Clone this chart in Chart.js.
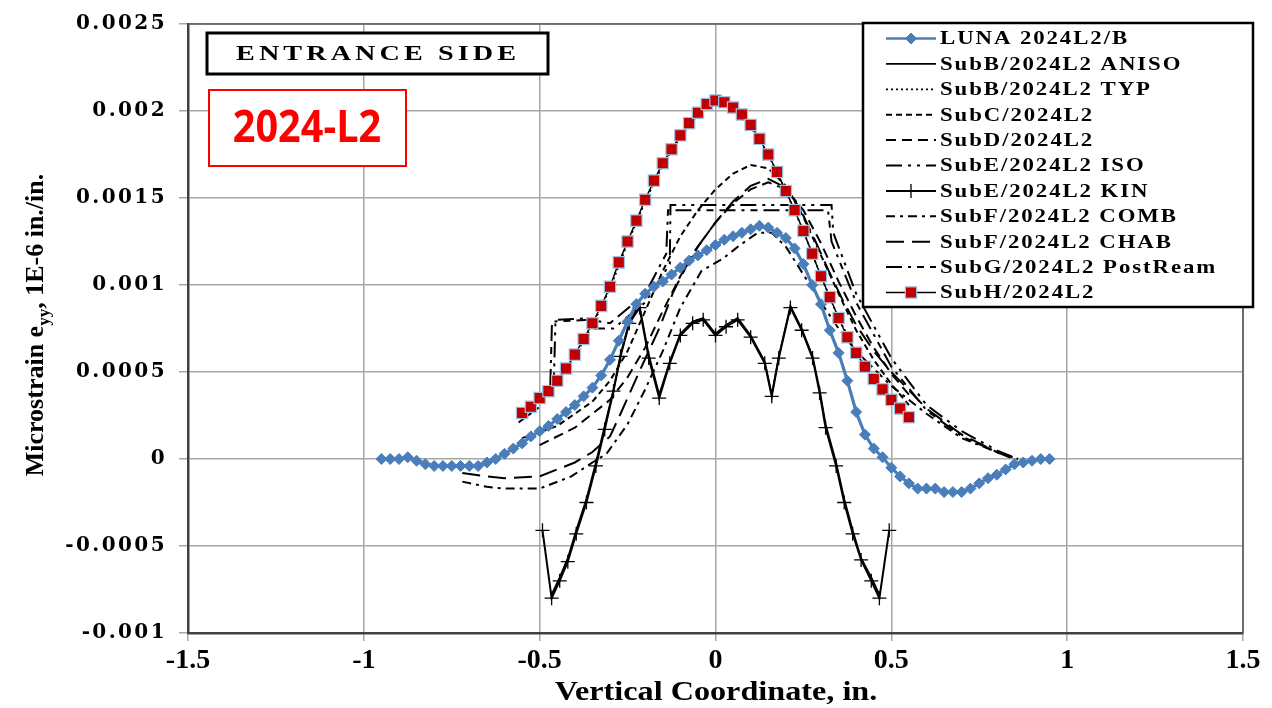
<!DOCTYPE html>
<html><head><meta charset="utf-8">
<script src="https://cdn.jsdelivr.net/npm/chart.js@4.4.1/dist/chart.umd.min.js"></script>
<style>html,body{margin:0;padding:0;background:#fff;}#wrap{position:relative;width:1272px;height:708px;}canvas{display:block;}</style>
</head><body><div id="wrap"><canvas id="c" width="1272" height="708"></canvas></div>
<script>
// ---------- data ----------
const xTicks = [-1.5,-1,-0.5,0,0.5,1,1.5];
const xTickLabels = ['-1.5','-1','-0.5','0','0.5','1','1.5'];
const yTicks = [-0.001,-0.0005,0,0.0005,0.001,0.0015,0.002,0.0025];
const yTickLabels = ['-0.001','-0.0005','0','0.0005','0.001','0.0015','0.002','0.0025'];
const seriesNames = ['LUNA 2024L2/B','SubB/2024L2 ANISO','SubB/2024L2 TYP','SubC/2024L2','SubD/2024L2','SubE/2024L2 ISO','SubE/2024L2 KIN','SubF/2024L2 COMB','SubF/2024L2 CHAB','SubG/2024L2 PostReam','SubH/2024L2'];

const lunaX = [-0.95,-0.925,-0.9,-0.875,-0.85,-0.825,-0.8,-0.775,-0.75,-0.725,-0.7,-0.675,-0.65,-0.625,-0.6,-0.575,-0.55,-0.525,-0.5,-0.475,-0.45,-0.425,-0.4,-0.375,-0.35,-0.325,-0.3,-0.275,-0.25,-0.225,-0.2,-0.175,-0.15,-0.125,-0.1,-0.075,-0.05,-0.025,0,0.025,0.05,0.075,0.1,0.125,0.15,0.175,0.2,0.225,0.25,0.275,0.3,0.325,0.35,0.375,0.4,0.425,0.45,0.475,0.5,0.525,0.55,0.575,0.6,0.625,0.65,0.675,0.7,0.725,0.75,0.775,0.8,0.825,0.85,0.875,0.9,0.925,0.95];
const lunaY = [0,0,0,0.00001,-0.00001,-0.00003,-0.00004,-0.00004,-0.00004,-0.00004,-0.00004,-0.00004,-0.00002,0,0.00003,0.00006,0.00009,0.00013,0.00016,0.00019,0.00023,0.00027,0.00031,0.00036,0.00041,0.00048,0.00057,0.00068,0.00079,0.00089,0.00095,0.00099,0.00102,0.00106,0.0011,0.00114,0.00117,0.0012,0.00123,0.00126,0.00128,0.0013,0.00132,0.00134,0.00133,0.0013,0.00127,0.00121,0.00112,0.001,0.00089,0.00074,0.00061,0.00045,0.00027,0.00014,0.00006,0.00001,-0.00005,-0.0001,-0.00014,-0.00017,-0.00017,-0.00017,-0.00019,-0.00019,-0.00019,-0.00017,-0.00014,-0.00011,-0.00009,-0.00006,-0.00003,-0.00002,-0.00001,0,0];

const anisoX = [-0.466,-0.443,-0.42,-0.396,-0.367,-0.34,-0.315,-0.29,-0.27,-0.245,-0.216,-0.19,-0.16,-0.13,-0.1,-0.065,-0.035,0,0.03,0.063,0.1,0.14,0.16,0.18,0.213,0.245,0.276,0.296,0.313,0.343,0.366,0.39,0.414,0.443,0.466];
const anisoY = [-0.00078,-0.00068,-0.00057,-0.00041,-0.00023,-0.00002,0.00019,0.0004,0.0006,0.00079,0.00088,0.0006,0.00037,0.00056,0.00072,0.00079,0.00081,0.00072,0.00077,0.00081,0.00071,0.00056,0.00037,0.00059,0.00088,0.00075,0.00059,0.0004,0.0002,-0.00002,-0.00023,-0.00041,-0.00057,-0.00068,-0.00078];

const typX = [-0.55,-0.5,-0.45,-0.4,-0.35,-0.3,-0.25,-0.2,-0.15,-0.1,-0.05,0,0.05,0.1,0.15,0.2,0.25,0.3,0.35,0.4,0.45,0.5,0.55];
const typY = [0.00026,0.00034,0.00044,0.00059,0.00077,0.00098,0.00124,0.00148,0.00169,0.00185,0.00198,0.00205,0.00201,0.00191,0.00175,0.00154,0.00131,0.00105,0.00081,0.00061,0.00046,0.00034,0.00024];

const subCX = [-0.55,-0.45,-0.35,-0.3,-0.25,-0.2,-0.15,-0.1,-0.05,0,0.05,0.1,0.15,0.2,0.25,0.3,0.35,0.4,0.45,0.5,0.55];
const subCY = [0.00012,0.00019,0.00033,0.00045,0.00062,0.00085,0.00108,0.00128,0.00143,0.00155,0.00164,0.00169,0.00167,0.00157,0.00139,0.00117,0.00095,0.00074,0.00057,0.00043,0.00031];

const subDX = [-0.5,-0.4,-0.3,-0.25,-0.2,-0.15,-0.1,-0.05,0,0.05,0.1,0.15,0.2,0.25,0.3,0.35,0.4,0.45,0.5,0.55];
const subDY = [0.00008,0.00018,0.00034,0.00047,0.00064,0.00085,0.00105,0.00122,0.00136,0.00147,0.00155,0.00159,0.00155,0.00143,0.00124,0.00102,0.00082,0.00064,0.00049,0.00037];

const isoX = [-0.56,-0.5,-0.46,-0.455,-0.35,-0.345,-0.29,-0.2,-0.13,-0.128,0.33,0.335,0.4,0.5,0.6,0.7,0.8,0.86];
const isoY = [0.00021,0.0003,0.00042,0.0008,0.00081,0.00075,0.00075,0.0009,0.00112,0.00146,0.00146,0.0013,0.00095,0.00058,0.00031,0.00016,0.00005,0];

const kinX = [-0.492,-0.466,-0.443,-0.42,-0.396,-0.367,-0.34,-0.315,-0.29,-0.27,-0.245,-0.216,-0.19,-0.16,-0.13,-0.1,-0.065,-0.035,0,0.03,0.063,0.1,0.14,0.16,0.18,0.213,0.245,0.276,0.296,0.313,0.343,0.366,0.39,0.414,0.443,0.466,0.494];
const kinY = [-0.00041,-0.0008,-0.0007,-0.00059,-0.00043,-0.00025,-0.00004,0.00017,0.00039,0.00059,0.00078,0.00087,0.00058,0.00035,0.00055,0.00071,0.00078,0.0008,0.00071,0.00076,0.0008,0.0007,0.00055,0.00036,0.00058,0.00087,0.00074,0.00058,0.00038,0.00018,-0.00004,-0.00025,-0.00043,-0.00058,-0.0007,-0.0008,-0.00041];

const combX = [-0.72,-0.65,-0.6,-0.5,-0.41,-0.35,-0.31,-0.25,-0.2,-0.15,-0.1,-0.04,0.02,0.07,0.12,0.16,0.2,0.25,0.3,0.35,0.4,0.5,0.6,0.7,0.8,0.86];
const combY = [-0.00013,-0.00016,-0.00017,-0.00017,-0.0001,-0.00002,0.00003,0.0002,0.0004,0.00062,0.00087,0.00108,0.00115,0.00123,0.0013,0.0013,0.00122,0.00106,0.0009,0.00075,0.00062,0.00042,0.00026,0.00012,0.00004,0];

const chabX = [-0.72,-0.65,-0.6,-0.5,-0.4,-0.35,-0.3,-0.27,-0.215,-0.16,-0.12,-0.065,0,0.05,0.1,0.15,0.2,0.24,0.28,0.32,0.36,0.4,0.45,0.5,0.6,0.7,0.8,0.86];
const chabY = [-0.00008,-0.0001,-0.00011,-0.0001,-0.00002,0.00004,0.00013,0.00026,0.00051,0.00075,0.00096,0.00118,0.00136,0.00148,0.00157,0.00161,0.00156,0.00144,0.00127,0.00109,0.00092,0.00077,0.00062,0.0005,0.00029,0.00014,0.00004,-0.00001];

const postX = [-0.55,-0.47,-0.465,-0.36,-0.3,-0.2,-0.14,-0.135,0.32,0.33,0.4,0.5,0.6,0.7,0.8,0.86];
const postY = [0.00024,0.0004,0.00079,0.0008,0.00078,0.00095,0.00118,0.00143,0.00143,0.00125,0.0009,0.00053,0.00028,0.00013,0.00004,0];

const subHX = [-0.55,-0.525,-0.5,-0.475,-0.45,-0.425,-0.4,-0.375,-0.35,-0.325,-0.3,-0.275,-0.25,-0.225,-0.2,-0.175,-0.15,-0.125,-0.1,-0.075,-0.05,-0.025,0,0.025,0.05,0.075,0.1,0.125,0.15,0.175,0.2,0.225,0.25,0.275,0.3,0.325,0.35,0.375,0.4,0.425,0.45,0.475,0.5,0.525,0.55];
const subHY = [0.000265,0.0003,0.00035,0.00039,0.00045,0.00052,0.0006,0.00069,0.00078,0.00088,0.00099,0.00113,0.00125,0.00137,0.00149,0.0016,0.0017,0.00178,0.00186,0.00193,0.00199,0.00204,0.00206,0.00205,0.00202,0.00198,0.00192,0.00184,0.00175,0.00165,0.00154,0.00143,0.00131,0.00118,0.00105,0.00093,0.00081,0.0007,0.00061,0.00053,0.00046,0.0004,0.00034,0.00029,0.00024];

// ---------- helpers ----------
const pts = (xs, ys) => xs.map((x, i) => ({x: x, y: ys[i]}));
const SERIF = "'Liberation Serif', 'Times New Roman', serif";

function lineDS(label, data, dash, extra) {
  return Object.assign({
    label: label, data: data, showLine: true, borderColor: '#000', backgroundColor: '#000',
    borderWidth: 2, borderDash: dash, pointRadius: 0, pointHoverRadius: 0, tension: 0, order: 3
  }, extra || {});
}

const datasets = [
  lineDS(seriesNames[0], pts(lunaX, lunaY), [], {borderColor: '#4A7EBB', borderWidth: 3.2, pointStyle: 'rectRot', pointRadius: 5.5, pointBackgroundColor: '#4A7EBB', pointBorderColor: '#4A7EBB', pointBorderWidth: 1, order: 1}),
  lineDS(seriesNames[1], pts(anisoX, anisoY), [], {borderWidth: 1.8}),
  lineDS(seriesNames[2], pts(typX, typY), [2, 3], {borderWidth: 1.8}),
  lineDS(seriesNames[3], pts(subCX, subCY), [6, 4]),
  lineDS(seriesNames[4], pts(subDX, subDY), [10, 6]),
  lineDS(seriesNames[5], pts(isoX, isoY), [16, 6, 3, 6, 3, 6]),
  lineDS(seriesNames[6], pts(kinX, kinY), [], {borderWidth: 2, pointStyle: 'cross', pointRadius: 7, pointBorderColor: '#000', pointBorderWidth: 1.3, order: 2}),
  lineDS(seriesNames[7], pts(combX, combY), [9, 5, 3, 5]),
  lineDS(seriesNames[8], pts(chabX, chabY), [18, 8]),
  lineDS(seriesNames[9], pts(postX, postY), [16, 6, 3, 6, 7, 6]),
  lineDS(seriesNames[10], pts(subHX, subHY), [], {borderWidth: 1.5, pointStyle: 'rect', pointRadius: 8, pointBackgroundColor: '#C00000', pointBorderColor: '#9CC3E5', pointBorderWidth: 1.2, order: 0})
];

function drawText(ctx, text, x, y, font, sx, spacing, align, baseline, color) {
  ctx.save();
  ctx.font = font;
  ctx.letterSpacing = (spacing || 0) + 'px';
  ctx.fillStyle = color || '#000';
  ctx.textBaseline = baseline || 'middle';
  ctx.textAlign = 'left';
  const w = ctx.measureText(text).width - (spacing || 0);
  ctx.translate(x, y);
  ctx.scale(sx, 1);
  let sxPos = 0;
  if (align === 'center') sxPos = -w / 2;
  else if (align === 'right') sxPos = -w;
  ctx.fillText(text, sxPos, 0);
  ctx.restore();
}

const spacingPlugin = {
  id: 'spacing',
  beforeDraw(chart) { chart.ctx.letterSpacing = '2.4px'; },
  beforeDatasetsDraw(chart) {
    const ctx = chart.ctx, a = chart.chartArea;
    ctx.letterSpacing = '0px';
    ctx.save();
    ctx.strokeStyle = '#595959';
    ctx.lineWidth = 1.6;
    ctx.beginPath();
    ctx.moveTo(a.left, a.top); ctx.lineTo(a.right, a.top); ctx.lineTo(a.right, a.bottom);
    ctx.stroke();
    ctx.restore();
  }
};

const decorPlugin = {
  id: 'decor',
  afterDraw(chart) {
    const ctx = chart.ctx;
    const H = Chart.helpers;
    // ENTRANCE SIDE box
    ctx.save();
    ctx.fillStyle = '#fff';
    ctx.fillRect(207, 33, 341, 41);
    ctx.strokeStyle = '#000'; ctx.lineWidth = 3;
    ctx.strokeRect(207, 33, 341, 41);
    ctx.restore();
    drawText(ctx, 'ENTRANCE SIDE', 376, 54, 'bold 22px ' + SERIF, 1.28, 3.2, 'center', 'middle', '#000');
    // 2024-L2 box
    ctx.save();
    ctx.fillStyle = '#fff';
    ctx.fillRect(209, 90, 197, 76);
    ctx.strokeStyle = '#FF0000'; ctx.lineWidth = 2;
    ctx.strokeRect(209, 90, 197, 76);
    ctx.restore();
    drawText(ctx, '2024-L2', 307, 129, "bold 44px 'Open Sans', 'Liberation Sans', sans-serif", 0.9, 0, 'center', 'middle', '#FF0000');

    // legend
    const L = 863, T = 23, R = 1253, B = 307;
    ctx.save();
    ctx.fillStyle = '#fff';
    ctx.fillRect(L, T, R - L, B - T);
    ctx.strokeStyle = '#000'; ctx.lineWidth = 2.5;
    ctx.strokeRect(L, T, R - L, B - T);
    ctx.restore();
    chart.data.datasets.forEach((ds, i) => {
      const y = 38.5 + i * 25.4;
      ctx.save();
      ctx.strokeStyle = ds.borderColor;
      ctx.lineWidth = Math.min(ds.borderWidth, 2.6);
      ctx.setLineDash(ds.borderDash || []);
      ctx.beginPath();
      ctx.moveTo(886, y); ctx.lineTo(936, y);
      ctx.stroke();
      ctx.setLineDash([]);
      if (ds.pointRadius > 0) {
        ctx.fillStyle = ds.pointBackgroundColor || ds.borderColor;
        ctx.strokeStyle = ds.pointBorderColor || ds.borderColor;
        ctx.lineWidth = ds.pointBorderWidth || 1;
        H.drawPoint(ctx, {pointStyle: ds.pointStyle, radius: ds.pointRadius, rotation: 0, borderWidth: ds.pointBorderWidth || 1}, 911, y);
      }
      ctx.restore();
      drawText(ctx, seriesNames[i], 940, y + 1, 'bold 19px ' + SERIF, 1.2, 1.6, 'left', 'middle', '#000');
    });

    // axis titles
    drawText(ctx, 'Vertical Coordinate, in.', 716, 700, 'bold 28px ' + SERIF, 1.15, 0, 'center', 'alphabetic', '#000');
    ctx.save();
    ctx.translate(43, 325);
    ctx.rotate(-Math.PI / 2);
    ctx.fillStyle = '#000';
    ctx.textBaseline = 'alphabetic';
    ctx.textAlign = 'left';
    const f1 = 'bold 26px ' + SERIF, f2 = 'bold 17px ' + SERIF;
    const p1 = 'Microstrain e', p2 = 'yy', p3 = ', 1E-6 in./in.';
    ctx.font = f1; const w1 = ctx.measureText(p1).width; const w3 = ctx.measureText(p3).width;
    ctx.font = f2; const w2 = ctx.measureText(p2).width;
    let sx = -(w1 + w2 + w3) / 2;
    ctx.font = f1; ctx.fillText(p1, sx, 0); sx += w1;
    ctx.font = f2; ctx.fillText(p2, sx, 6); sx += w2;
    ctx.font = f1; ctx.fillText(p3, sx, 0);
    ctx.restore();
  }
};

new Chart(document.getElementById('c'), {
  type: 'scatter',
  data: {datasets: datasets},
  options: {
    responsive: false, animation: false, devicePixelRatio: 1,
    layout: {padding: {left: 0, right: 29, top: 22, bottom: 0}},
    plugins: {legend: {display: false}, tooltip: {enabled: false}},
    elements: {line: {tension: 0}},
    scales: {
      x: {
        type: 'linear', min: -1.5, max: 1.5,
        afterBuildTicks: s => { s.ticks = xTicks.map(v => ({value: v})); },
        afterFit: s => { s.height = 75; },
        grid: {color: '#a6a6a6', lineWidth: 1.5, tickLength: 8},
        border: {color: '#404040', width: 2.5},
        ticks: {z: 1, color: '#000', padding: 3, maxRotation: 0, font: {family: SERIF, weight: 'bold', size: 28}, callback: (v, i) => xTickLabels[i]}
      },
      y: {
        type: 'linear', min: -0.001, max: 0.0025,
        afterBuildTicks: s => { s.ticks = yTicks.map(v => ({value: v})); },
        afterFit: s => { s.width = 188; },
        grid: {color: '#a6a6a6', lineWidth: 1.5, tickLength: 9},
        border: {color: '#404040', width: 2.5},
        ticks: {color: '#000', padding: 12, font: {family: "'DejaVu Serif', serif", weight: 'bold', size: 20}, callback: (v, i) => yTickLabels[i]}
      }
    }
  },
  plugins: [spacingPlugin, decorPlugin]
});
</script>
</body></html>
